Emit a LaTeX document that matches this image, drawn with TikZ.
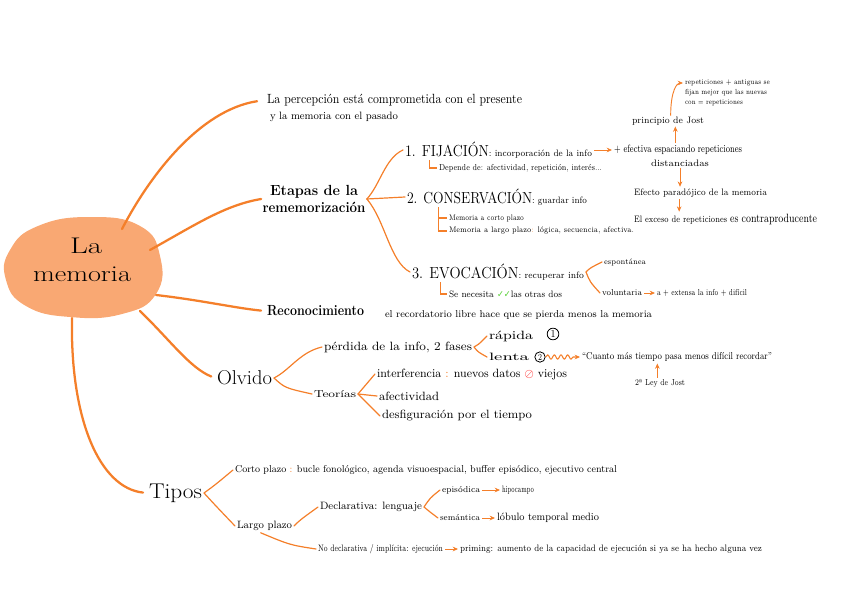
\documentclass[tikz,border=0pt]{standalone}
\usepackage{fontspec}
\usepackage{graphicx}
\usetikzlibrary{decorations.pathmorphing,arrows.meta}
\newfontfamily\symf{DejaVu Sans}
\definecolor{or}{HTML}{F47F2A}
\definecolor{blobc}{HTML}{F9A873}
\definecolor{chk}{HTML}{5BD03A}
\newlength\px \setlength\px{0.75pt}
\newcommand\T[3][8]{{\fontsize{#1}{#1}\selectfont\resizebox{#2\px}{\height}{#3}}}
\newcommand\bgt[1]{{\fontsize{12}{12}\selectfont #1}}
\newcommand\sml[1]{{\fontsize{7}{7}\selectfont #1}}
\tikzset{
 t/.style={anchor=west,inner sep=0pt,outer sep=1.5pt},
 tc/.style={inner sep=0pt,outer sep=1pt},
 main/.style={draw=or,line width=1.7pt,line cap=round},
 sub/.style={draw=or,line width=0.9pt,line cap=round},
 brk/.style={draw=or,line width=0.8pt},
 arr/.style={draw=or,line width=0.7pt,-{Stealth[length=4pt,width=3.5pt]}},
 num/.style={circle,draw,line width=0.6pt,inner sep=0.8pt},
}
\begin{document}
\begin{tikzpicture}[x=0.75pt,y=-0.75pt]
\useasboundingbox (0,0) rectangle (848,599);
% central blob
\fill[blobc] plot[smooth cycle,tension=0.8] coordinates {(10,250) (38,226) (90,217) (140,226) (160,256) (156,294) (122,314) (70,317) (26,306) (6,280)};
\node[tc] (la) at (86,246) {\T[17]{32}{La}};
\node[tc] (mem) at (82,274) {\T[17]{98}{memoria}};
\coordinate (bA) at (122,229);
\coordinate (bB) at (150,250);
\coordinate (bC) at (156,295);
\coordinate (bD) at (140,311);
\coordinate (bE) at (72,318);

% percepcion
\node[t] (perc1) at (265,100) {\T[10]{255}{La percepción está comprometida con el presente}};
\node[t] (perc2) at (268,117) {\T[8]{128}{y la memoria con el pasado}};
\draw[main,shorten >=6pt] (bA) .. controls (150,175) and (200,110) .. (perc1.west);

% etapas
\node[tc,align=center] (etapas) at (314,199) {\T[11]{88}{\bfseries Etapas de la}\\[1pt]\T[11]{103}{\bfseries rememorización}};
\draw[main] (bB) .. controls (195,225) and (225,205) .. (etapas.west);

\node[t] (fij) at (403,150) {\T{187}{\bgt{1. FIJACIÓN}\sml{: incorporación de la info}}};
\node[t] (efec) at (612,150) {\T[8]{128}{+ efectiva espaciando repeticiones}};
\node[tc] (dist) at (680,163) {\T[7]{58}{distanciadas}};
\node[t] (dep) at (437,168) {\T[6.5]{163}{Depende de: afectividad, repetición, interés...}};
\draw[arr] (fij.east) -- (efec.west);
\draw[brk] ([xshift=20]fij.south west) |- (dep.west);

\node[tc] (princ) at (668,121) {\T[7]{72}{principio de Jost}};
\node[t] (rep1) at (683,83) {\T[5.5]{85}{repeticiones + antiguas se}};
\node[t] (rep2) at (683,93) {\T[5.5]{82}{fijan mejor que las nuevas}};
\node[t] (rep3) at (683,103) {\T[5.5]{58}{con = repeticiones}};
\draw[arr] ([xshift=-2]efec.north) -- ([xshift=-2]efec.north |- princ.south);
\draw[arr] ([xshift=2]princ.north) .. controls +(0,-25) and +(-6,0) .. (rep1.west);

\node[t] (efecto) at (632,193) {\T[7]{133}{Efecto paradójico de la memoria}};
\node[t] (exceso) at (632,219) {\T[7]{183}{\sml{El exceso de repeticiones} {\fontsize{9}{9}\selectfont es contraproducente}}};
\draw[arr] (dist.south) -- (dist.south |- efecto.north);
\draw[arr] ([xshift=-16]efecto.south) -- ([xshift=-16]efecto.south |- exceso.north);

\node[t] (cons) at (405,197) {\T{180}{\bgt{2. CONSERVACIÓN}\sml{: guardar info}}};
\node[t] (cp) at (447,218) {\T[6]{75}{Memoria a corto plazo}};
\node[t] (lp) at (447,231) {\T[6]{185}{Memoria a largo plazo{\color{or}:} lógica, secuencia, afectiva.}};
\draw[brk] ([xshift=25]cons.south west) |- (cp.west);
\draw[brk] ([xshift=25]cons.south west) |- (lp.west);

\node[t] (evo) at (410,272) {\T{172}{\bgt{3. EVOCACIÓN}\sml{: recuperar info}}};
\node[t] (sn) at (447,294) {\T[7]{113}{Se necesita {\color{chk}\symf ✓✓}las otras dos}};
\draw[brk] ([xshift=23]evo.south west) |- (sn.west);
\node[t] (esp) at (602,262) {\T[6]{42}{espontánea}};
\node[t] (vol) at (600,293) {\T[6.5]{40}{voluntaria}};
\node[t] (ext) at (655,293) {\T[6.5]{90}{a + extensa la info + difícil}};
\draw[sub] (evo.east) .. controls (590,268) .. (esp.west);
\draw[sub] (evo.east) .. controls (590,282) .. (vol.west);
\draw[arr] (vol.east) -- (ext.west);

\draw[sub] (etapas.east) .. controls (380,185) and (385,158) .. (fij.west);
\draw[sub] (etapas.east) .. controls (385,198) .. (cons.west);
\draw[sub] (etapas.east) .. controls (385,220) and (390,262) .. (evo.west);

% reconocimiento
\node[t] (reco) at (265,311) {\T[11]{97}{\bfseries Reconocimiento}};
\node[t] (rtext) at (383,315) {\T[7.5]{267}{el recordatorio libre hace que se pierda menos la memoria}};
\draw[main,shorten >=3pt] (bC) .. controls (200,300) and (235,308) .. (reco.west);

% olvido
\node[t] (olv) at (215,378) {\T[15]{55}{Olvido}};
\draw[main,shorten >=3pt] (bD) .. controls (170,340) and (190,368) .. (olv.west);
\node[t] (perd) at (322,347) {\T[9]{148}{pérdida de la info, 2 fases}};
\node[t] (rap) at (487,336) {\T[9]{44}{rápida}};
\node[num] (c1) at (553,334) {\T[8]{5}{1}};
\node[t] (len) at (487,357) {\T[8]{40}{lenta}};
\node[num] (c2) at (540,357) {\T[7]{4}{2}};
\node[t] (quote) at (580,357) {\T[7.5]{190}{“Cuanto más tiempo pasa menos difícil recordar”}};
\node[tc] (ley) at (660,383) {\T[6.5]{50}{2ª Ley de Jost}};
\draw[sub] (perd.east) .. controls (478,345) .. (rap.west);
\draw[sub] (perd.east) .. controls (478,352) .. (len.west);
\draw[draw=or,line width=0.8pt,decorate,decoration={snake,amplitude=1.6pt,segment length=5pt,post length=3pt},-{Stealth[length=4pt,width=3.5pt]}] (c2.east) -- (quote.west);
\draw[arr] ([xshift=-2]ley.north) -- ([xshift=-2]ley.north |- quote.south);

\node[t] (teo) at (312,394) {\T[7.5]{42}{Teorías}};
\node[t] (inter) at (375,374) {\T[9]{190}{interferencia {\color{or}:} nuevos datos {\color{red}$\oslash$} viejos}};
\node[t] (afec) at (377,396) {\T[9]{60}{afectividad}};
\node[t] (desf) at (380,416) {\T[9]{150}{desfiguración por el tiempo}};
\draw[sub] (olv.east) .. controls (290,370) and (300,352) .. (perd.west);
\draw[sub] (olv.east) .. controls (285,388) .. (teo.west);
\draw[sub] (teo.east) -- (inter.west);
\draw[sub] (teo.east) -- (afec.west);
\draw[sub] (teo.east) -- (desf.west);

% tipos
\node[t] (tipos) at (147,493) {\T[16]{53}{Tipos}};
\draw[main,shorten >=3pt] (bE) .. controls (70,420) and (100,488) .. (tipos.west);
\node[t] (cortop) at (233,470) {\T[7.5]{382}{Corto plazo {\color{or}:} bucle fonológico, agenda visuoespacial, buffer episódico, ejecutivo central}};
\node[t] (largop) at (235,526) {\T[8]{55}{Largo plazo}};
\draw[sub] (tipos.east) .. controls (215,485) .. (cortop.west);
\draw[sub] (tipos.east) .. controls (215,505) .. (largop.west);
\node[t] (decl) at (318,507) {\T[8]{102}{Declarativa: lenguaje}};
\node[t] (epi) at (440,490) {\T[6.5]{38}{episódica}};
\node[t] (hip) at (500,490) {\T[7]{32}{hipocampo}};
\node[t] (sem) at (438,518) {\T[6.5]{40}{semántica}};
\node[t] (lob) at (495,518) {\T[8]{102}{lóbulo temporal medio}};
\node[t] (nod) at (316,549) {\T[7]{125}{No declarativa / implícita: ejecución}};
\node[t] (prim) at (458,549) {\T[7]{302}{priming: aumento de la capacidad de ejecución si ya se ha hecho alguna vez}};
\draw[sub] (largop.east) .. controls (300,520) .. (decl.west);
\draw[sub] ([xshift=-25]largop.south east) .. controls (290,545) .. (nod.west);
\draw[sub] (decl.east) .. controls (430,498) .. (epi.west);
\draw[sub] (decl.east) .. controls (430,512) .. (sem.west);
\draw[arr] (epi.east) -- (hip.west);
\draw[arr] (sem.east) -- (lob.west);
\draw[arr] (nod.east) -- (prim.west);
\end{tikzpicture}
\end{document}
